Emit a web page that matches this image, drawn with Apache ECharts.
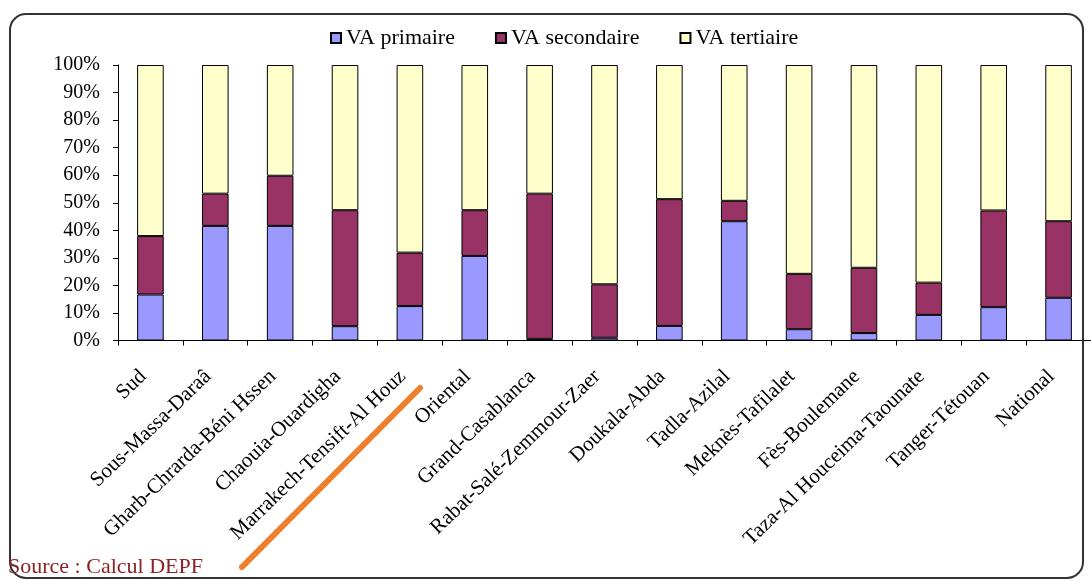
<!DOCTYPE html>
<html>
<head>
<meta charset="utf-8">
<script src="https://cdn.jsdelivr.net/npm/echarts@6/dist/echarts.min.js"></script>
<style>
html,body{margin:0;padding:0;background:#fff;}
#c{width:1091px;height:581px;}
</style>
</head>
<body>
<div id="c"></div>
<script>
var categories = ["Sud","Sous-Massa-Daraâ","Gharb-Chrarda-Béni Hssen","Chaouia-Ouardigha","Marrakech-Tensift-Al Houz","Oriental","Grand-Casablanca","Rabat-Salé-Zemmour-Zaer","Doukala-Abda","Tadla-Azilal","Meknès-Tafilalet","Fès-Boulemane","Taza-Al Houceima-Taounate","Tanger-Tétouan","National"];
var vaPrimaire = [16.7, 41.6, 41.6, 5.2, 12.5, 30.7, 0.6, 1.0, 5.3, 43.3, 4.1, 2.7, 9.3, 12.1, 15.5];
var vaSecondaire = [21.2, 11.7, 18.2, 42.1, 19.4, 16.6, 52.7, 19.4, 46.0, 7.4, 20.1, 23.7, 11.7, 35.1, 27.8];
var vaTertiaire = [62.1, 46.7, 40.2, 52.7, 68.1, 52.7, 46.7, 79.6, 48.7, 49.3, 75.8, 73.6, 79.0, 52.8, 56.7];
var yTicks = [0,10,20,30,40,50,60,70,80,90,100];

var serif = '"Liberation Serif","DejaVu Serif",serif';
var chart = echarts.init(document.getElementById('c'));
function bar(name, data, color){
  return {
    name: name, type: 'bar', stack: 'total', data: data, barWidth: '41%',
    itemStyle: {color: color, borderColor: '#000', borderWidth: 1},
    emphasis: {disabled: true}
  };
}
chart.setOption({
  animation: false,
  backgroundColor: '#fff',
  legend: {
    top: 22, left: 325,
    itemWidth: 10, itemHeight: 10, itemGap: 40, icon: 'rect',
    textStyle: {fontFamily: serif, fontSize: 22, color: '#000'},
    data: ['VA primaire','VA secondaire','VA tertiaire']
  },
  grid: {left: 118, top: 65, width: 983.5, height: 275.5, containLabel: false},
  xAxis: {
    type: 'category', data: categories, boundaryGap: true,
    axisLine: {lineStyle: {color: '#000', width: 1}},
    axisTick: {show: true, length: 5, lineStyle: {color: '#000'}},
    axisLabel: {rotate: 44, interval: 0, margin: 26, padding: [0, 10, 0, 0], fontFamily: serif, fontSize: 21, color: '#000'}
  },
  yAxis: {
    type: 'value', min: 0, max: 100, interval: 10,
    axisLine: {show: true, lineStyle: {color: '#000', width: 1}},
    axisTick: {show: true, length: 5, lineStyle: {color: '#000'}},
    splitLine: {show: false},
    axisLabel: {formatter: '{value}%', margin: 18, fontFamily: serif, fontSize: 20, color: '#000'}
  },
  series: [
    bar('VA primaire', vaPrimaire, '#9999FF'),
    bar('VA secondaire', vaSecondaire, '#993366'),
    bar('VA tertiaire', vaTertiaire, '#FFFFCC')
  ],
  graphic: [
    {type: 'rect', shape: {x: 10, y: 14, width: 1073, height: 564, r: 16}, style: {fill: 'none', stroke: '#333', lineWidth: 2}, z: 100},
    {type: 'line', shape: {x1: 420, y1: 388, x2: 242, y2: 567}, style: {stroke: '#EE7F2D', lineWidth: 6, lineCap: 'round'}, z: 100},
    {type: 'text', left: 8, top: 556, style: {text: 'Source : Calcul DEPF', fill: '#8B2323', font: '22px ' + serif}, z: 100}
  ]
});
</script>
</body>
</html>
